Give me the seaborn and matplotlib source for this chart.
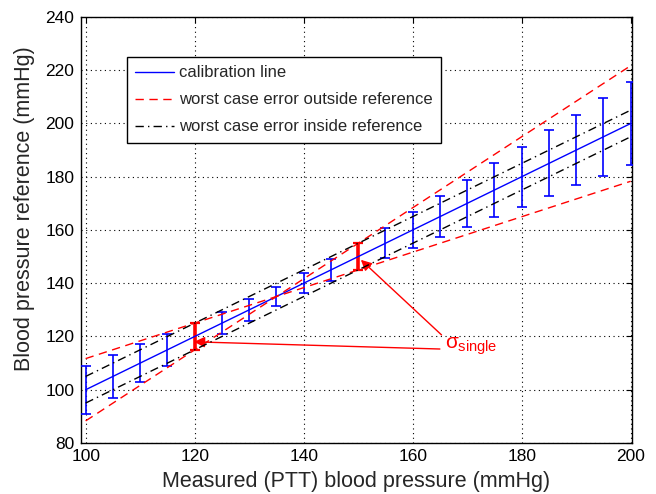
import numpy as np
import pandas as pd
import matplotlib
matplotlib.use("Agg")
import matplotlib.pyplot as plt
import seaborn as sns

# ---- data ----
bp_measured = [100, 105, 110, 115, 120, 125, 130, 135, 140, 145, 150,
               155, 160, 165, 170, 175, 180, 185, 190, 195, 200]
bp_error = [9, 8, 7, 6, 5, 4.2, 4, 3.6, 3.7, 4, 5,
            5.7, 6.7, 7.8, 8.8, 10, 11.2, 12.4, 13.2, 14.6, 15.7]
single_x = [120, 150]
single_err = [5, 5]

cal_x = [100, 200]
cal_y = [100, 200]
outside_x = [100, 200]
outside_a = [88.3, 221.7]
outside_b = [111.7, 178.3]
inside_x = [100, 200]
inside_hi = [105, 205]
inside_lo = [95, 195]

x_ticks = [100, 120, 140, 160, 180, 200]
y_ticks = [80, 100, 120, 140, 160, 180, 200, 220, 240]

sns.set_style("white")
plt.rcParams['font.family'] = ['Liberation Sans', 'DejaVu Sans']
plt.rcParams['mathtext.fontset'] = 'custom'
plt.rcParams['mathtext.rm'] = 'Liberation Sans'
plt.rcParams['mathtext.it'] = 'Liberation Sans'
plt.rcParams['mathtext.bf'] = 'Liberation Sans:bold'

fig = plt.figure(figsize=(6.56, 4.94), dpi=100)
ax = fig.add_axes([81/656, 1-443/494, 551/656, 426/494])

# grid
ax.set_xticks(x_ticks)
ax.set_yticks(y_ticks)
ax.grid(True, color='black', linestyle=(0, (1, 3.2)), linewidth=0.8)
ax.set_axisbelow(True)

# error bars
ax.errorbar(bp_measured, bp_measured, yerr=bp_error, fmt='none', ecolor='blue',
            elinewidth=1.2, capsize=3.6, capthick=1.2, zorder=3)
ax.errorbar(single_x, single_x, yerr=single_err, fmt='none', ecolor='red',
            elinewidth=2.6, capsize=3.6, capthick=1.6, zorder=4)

# lines
sns.lineplot(x=cal_x, y=cal_y, color='blue', linewidth=1.0, ax=ax,
             label='calibration line', zorder=5)
sns.lineplot(x=outside_x, y=outside_a, color='red', linewidth=1.0,
             linestyle=(0, (6, 4)), ax=ax, label='worst case error outside reference', zorder=5)
sns.lineplot(x=outside_x, y=outside_b, color='red', linewidth=1.0,
             linestyle=(0, (6, 4)), ax=ax, label='_nolegend_', zorder=5)
sns.lineplot(x=inside_x, y=inside_hi, color='black', linewidth=1.0,
             linestyle=(0, (6, 3, 1, 3)), ax=ax, label='worst case error inside reference', zorder=5)
sns.lineplot(x=inside_x, y=inside_lo, color='black', linewidth=1.0,
             linestyle=(0, (6, 3, 1, 3)), ax=ax, label='_nolegend_', zorder=5)

ax.set_xlim(99.15, 200.25)
ax.set_ylim(80, 240)

# annotations
ax.text(166.0, 115.6, r'$\sigma_{\mathrm{single}}$', color='red', fontsize=15,
        ha='left', va='baseline')
arrow_kw = dict(arrowstyle='-|>', color='red', lw=1.0, mutation_scale=16,
                shrinkA=0, shrinkB=0)
ax.annotate('', xy=(119.9, 118.0), xytext=(165.0, 115.3), arrowprops=arrow_kw)
ax.annotate('', xy=(150.5, 148.8), xytext=(165.3, 120.6), arrowprops=arrow_kw)

# axes style
for s in ax.spines.values():
    s.set_visible(True)
    s.set_color('black')
    s.set_linewidth(1.0)
ax.tick_params(direction='in', length=4, width=0.8, top=True, right=True,
               labelsize=12.5, colors='black')
ax.tick_params(axis='x', pad=4)
ax.tick_params(axis='y', pad=4.8)
ax.set_xlabel('Measured (PTT) blood pressure (mmHg)', fontsize=15.5, labelpad=5)
ax.set_ylabel('Blood pressure reference (mmHg)', fontsize=15.5)
ax.yaxis.set_label_coords(-0.083, 0.55)

leg = ax.legend(loc='upper left', bbox_to_anchor=(0.0835, 0.906), borderaxespad=0,
                fontsize=12, frameon=True, fancybox=False, edgecolor='black',
                framealpha=1, handlelength=2.3, handletextpad=0.34,
                labelspacing=0.72, borderpad=0.5)
leg.get_frame().set_linewidth(1.0)

fig.savefig('out.png', dpi=100)
